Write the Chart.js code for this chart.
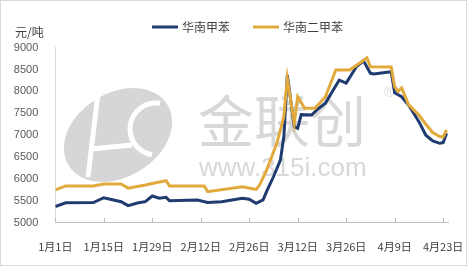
<!DOCTYPE html>
<html>
<head>
<meta charset="utf-8">
<script src="https://cdn.jsdelivr.net/npm/chart.js@4/dist/chart.umd.min.js"></script>
<style>
  html, body { margin: 0; padding: 0; background: #fff; }
  #wrap { width: 467px; height: 266px; box-sizing: border-box; border: 1px solid #d9d9d9; position: relative; }
  #box { width: 465px; height: 264px; }
</style>
</head>
<body>
<div id="wrap"><div id="box"><canvas id="c"></canvas></div></div>
<script>
// 横轴：从1月1日起的天数
const tickDays   = [0, 14, 28, 42, 56, 70, 84, 98, 112];
const tickLabels = ['1月1日', '1月15日', '1月29日', '2月12日', '2月26日', '3月12日', '3月26日', '4月9日', '4月23日'];
const yTicks     = [5000, 5500, 6000, 6500, 7000, 7500, 8000, 8500, 9000];

// 华南甲苯
const tolueneDays   = [0, 3, 11, 14, 19, 21, 24, 26, 28, 30, 32, 33, 41, 44, 48, 54, 56, 58, 60, 61, 63, 65, 66, 67, 69, 70, 71, 74, 76, 78, 80, 82, 84, 87, 89, 91, 92, 97, 98, 100, 102, 105, 107, 109, 111, 112, 113];
const tolueneValues = [5370, 5455, 5460, 5570, 5480, 5390, 5455, 5480, 5610, 5560, 5580, 5500, 5520, 5460, 5480, 5560, 5535, 5445, 5520, 5710, 6050, 6430, 6970, 8380, 7200, 7160, 7470, 7460, 7610, 7730, 8000, 8260, 8190, 8570, 8700, 8415, 8400, 8450, 7970, 7880, 7690, 7310, 7000, 6870, 6815, 6830, 7045];

// 华南二甲苯
const xyleneDays   = [0, 3, 11, 14, 19, 21, 26, 29, 32, 33, 43, 44, 54, 58, 59, 61, 64, 66, 67, 69, 70, 72, 75, 78, 81, 85, 87, 90, 91, 97, 98, 99, 100, 102, 105, 107, 109, 111, 112, 113];
const xyleneValues = [5750, 5840, 5840, 5885, 5885, 5790, 5860, 5915, 5960, 5840, 5840, 5710, 5820, 5760, 5860, 6200, 6820, 7420, 8300, 7270, 7880, 7615, 7615, 7880, 8490, 8490, 8600, 8770, 8565, 8560, 8110, 8000, 8080, 7700, 7460, 7250, 7060, 6970, 6960, 7120];

const toPoints = (days, vals) => days.map((d, i) => ({ x: d, y: vals[i] }));

// 水印
const watermark = {
  id: 'watermark',
  beforeDatasetsDraw(chart) {
    const c = chart.ctx;
    c.save();
    c.fillStyle = '#d6d6d6';
    c.beginPath();
    c.ellipse(117, 134, 58, 42, -0.55, 0, Math.PI * 2);
    c.fill();
    c.strokeStyle = '#fff';
    c.lineWidth = 5;
    c.beginPath();
    c.arc(155, 128, 26, Math.PI * 0.55, Math.PI * 1.55);
    c.stroke();
    c.beginPath();
    c.moveTo(97, 92); c.lineTo(87, 176);
    c.moveTo(90, 148); c.lineTo(131, 144);
    c.stroke();
    c.fillStyle = '#d8d8d8';
    c.textBaseline = 'middle';
    c.font = '56px "Noto Sans CJK SC"';
    c.fillText('金联创', 197, 120);
    c.textBaseline = 'alphabetic';
    c.font = '26px "Liberation Sans"';
    c.fillText('www.315i.com', 198, 175);
    c.font = '14px "Liberation Sans"';
    c.fillText('®', 383, 96);
    c.restore();
  }
};

// 横轴刻度线（朝上）、图例和单位
const extras = {
  id: 'extras',
  afterDraw(chart) {
    const c = chart.ctx;
    const xs = chart.scales.x;
    c.save();
    c.strokeStyle = '#bfbfbf';
    c.lineWidth = 1;
    xs.ticks.forEach(t => {
      const px = Math.round(xs.getPixelForValue(t.value)) + 0.5;
      c.beginPath();
      c.moveTo(px, xs.top);
      c.lineTo(px, xs.top - 5);
      c.stroke();
    });
    c.fillStyle = '#404040';
    c.font = '12px "Noto Sans CJK SC"';
    c.textBaseline = 'middle';
    c.fillText('元/吨', 14, 31);
    const legendX = [151, 252];
    chart.data.datasets.forEach((ds, i) => {
      c.strokeStyle = ds.borderColor;
      c.lineWidth = 3;
      c.beginPath();
      c.moveTo(legendX[i], 26);
      c.lineTo(legendX[i] + 26, 26);
      c.stroke();
      c.fillText(ds.label, legendX[i] + 30, 26);
    });
    c.restore();
  }
};

new Chart(document.getElementById('c'), {
  type: 'line',
  data: {
    datasets: [{
      label: '华南甲苯',
      data: toPoints(tolueneDays, tolueneValues),
      borderColor: '#1f3b70',
      borderWidth: 3,
      pointRadius: 0,
      tension: 0,
      order: 1
    }, {
      label: '华南二甲苯',
      data: toPoints(xyleneDays, xyleneValues),
      borderColor: '#e2aa3c',
      borderWidth: 3,
      pointRadius: 0,
      tension: 0,
      order: 0
    }]
  },
  options: {
    responsive: true,
    maintainAspectRatio: false,
    animation: false,
    layout: { padding: { top: 46.7, right: 18, bottom: 0, left: 0 } },
    plugins: { legend: { display: false }, tooltip: { enabled: false } },
    scales: {
      x: {
        type: 'linear',
        min: 0,
        max: 113.4,
        afterBuildTicks: s => { s.ticks = tickDays.map(v => ({ value: v })); },
        afterFit: s => { s.height = 42.3; s.paddingLeft = 0; s.paddingRight = 0; },
        grid: { display: false },
        border: { color: '#bfbfbf' },
        ticks: {
          autoSkip: false,
          maxRotation: 0,
          padding: 10,
          color: '#404040',
          font: { family: '"Noto Sans CJK SC"', size: 11 },
          callback: v => tickLabels[tickDays.indexOf(v)]
        }
      },
      y: {
        min: 5000,
        max: 9000,
        afterBuildTicks: s => { s.ticks = yTicks.map(v => ({ value: v })); },
        afterFit: s => { s.width = 54.3; s.paddingTop = 0; s.paddingBottom = 0; },
        grid: { display: false },
        border: { color: '#d9d9d9' },
        ticks: {
          padding: 9,
          color: '#595959',
          font: { family: '"Liberation Sans"', size: 11 },
          callback: v => String(v)
        }
      }
    }
  },
  plugins: [watermark, extras]
});
</script>
</body>
</html>
